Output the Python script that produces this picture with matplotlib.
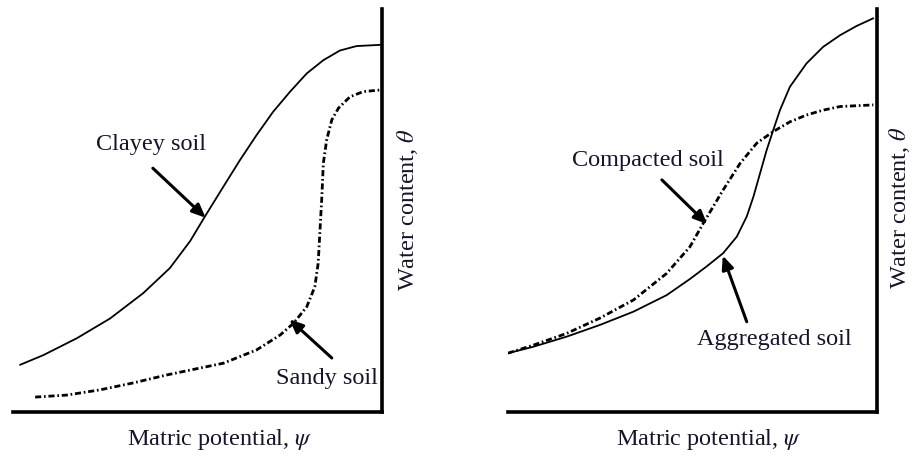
import matplotlib
matplotlib.use("Agg")
import matplotlib.pyplot as plt

plt.rcParams['font.family'] = ['Liberation Serif', 'DejaVu Serif']
plt.rcParams['mathtext.fontset'] = 'stix'

# ---- data (relative units) ----
clayey_x = [0.019, 0.082, 0.173, 0.263, 0.353, 0.425, 0.480, 0.520, 0.570, 0.615, 0.660, 0.705,
            0.751, 0.796, 0.841, 0.886, 0.931, 0.995]
clayey_y = [0.117, 0.141, 0.183, 0.232, 0.295, 0.357, 0.424, 0.485, 0.559, 0.625, 0.687, 0.745,
            0.795, 0.840, 0.873, 0.897, 0.908, 0.911]

sandy_x = [0.060, 0.146, 0.236, 0.325, 0.417, 0.480, 0.570, 0.660, 0.724, 0.760, 0.796, 0.818,
           0.827, 0.832, 0.837, 0.841, 0.850, 0.864, 0.882, 0.913, 0.949, 0.995]
sandy_y = [0.037, 0.042, 0.055, 0.072, 0.092, 0.104, 0.121, 0.154, 0.191, 0.220, 0.261, 0.311,
           0.369, 0.452, 0.534, 0.617, 0.675, 0.725, 0.754, 0.782, 0.795, 0.799]

aggregated_x = [0.000, 0.069, 0.159, 0.249, 0.340, 0.430, 0.493, 0.538, 0.583, 0.620, 0.647, 0.665,
                0.683, 0.701, 0.719, 0.737, 0.764, 0.809, 0.854, 0.900, 0.945, 0.990]
aggregated_y = [0.146, 0.162, 0.187, 0.216, 0.249, 0.290, 0.330, 0.361, 0.394, 0.435, 0.485, 0.534,
                0.592, 0.650, 0.700, 0.749, 0.807, 0.865, 0.906, 0.935, 0.958, 0.977]

compacted_x = [0.000, 0.069, 0.159, 0.249, 0.340, 0.430, 0.493, 0.529, 0.583, 0.629, 0.674, 0.719,
               0.764, 0.809, 0.854, 0.900, 0.990]
compacted_y = [0.146, 0.166, 0.195, 0.233, 0.278, 0.344, 0.410, 0.468, 0.551, 0.617, 0.667, 0.696,
               0.720, 0.737, 0.749, 0.758, 0.762]

xlabel = "Matric potential, $\\psi$"
ylabel = "Water content, $\\theta$"

fig = plt.figure(figsize=(9.13, 4.57), dpi=100)
ax1 = fig.add_axes([13/913, 45/457, 369/913, 403/457])
ax2 = fig.add_axes([508/913, 45/457, 369/913, 403/457])

dashdot = (0, (2.2, 1.0, 0.6, 1.0))
txtc = '#15152a'
fs = 17.5

def style(ax):
    ax.set_xlim(0, 1)
    ax.set_ylim(0, 1)
    for s in ['top', 'left']:
        ax.spines[s].set_visible(False)
    for s in ['bottom', 'right']:
        ax.spines[s].set_linewidth(2.6)
        ax.spines[s].set_capstyle('projecting')
    ax.set_xticks([])
    ax.set_yticks([])
    ax.patch.set_alpha(0)

def arrow(ax, tail, head):
    ax.annotate('', xy=head, xytext=tail,
                arrowprops=dict(arrowstyle='-|>,head_length=0.8,head_width=0.35',
                                lw=2.2, color='black', shrinkA=0, shrinkB=0))

for ax in (ax1, ax2):
    style(ax)

# Left panel
ax1.plot(clayey_x, clayey_y, color='black', lw=1.3, solid_joinstyle='round', solid_capstyle='round')
ax1.plot(sandy_x, sandy_y, color='black', lw=2.0, linestyle=dashdot)
ax1.text(0.374, 0.663, "Clayey soil", ha='center', va='center', fontsize=fs, color=txtc)
arrow(ax1, (0.379, 0.605), (0.522, 0.482))
ax1.text(0.851, 0.084, "Sandy soil", ha='center', va='center', fontsize=fs, color=txtc)
arrow(ax1, (0.864, 0.134), (0.749, 0.230))
ax1.text(0.561, -0.069, xlabel, ha='center', va='center', fontsize=fs, color=txtc)
ax1.text(1.070, 0.501, ylabel, ha='center', va='center', rotation=90, fontsize=fs, color=txtc)

# Right panel
ax2.plot(aggregated_x, aggregated_y, color='black', lw=1.3, solid_joinstyle='round', solid_capstyle='round')
ax2.plot(compacted_x, compacted_y, color='black', lw=2.0, linestyle=dashdot)
ax2.text(0.379, 0.625, "Compacted soil", ha='center', va='center', fontsize=fs, color=txtc)
arrow(ax2, (0.417, 0.576), (0.540, 0.466))
ax2.text(0.721, 0.179, "Aggregated soil", ha='center', va='center', fontsize=fs, color=txtc)
arrow(ax2, (0.647, 0.224), (0.582, 0.388))
ax2.text(0.545, -0.069, xlabel, ha='center', va='center', fontsize=fs, color=txtc)
ax2.text(1.062, 0.506, ylabel, ha='center', va='center', rotation=90, fontsize=fs, color=txtc)

fig.savefig("out.png", dpi=100)
